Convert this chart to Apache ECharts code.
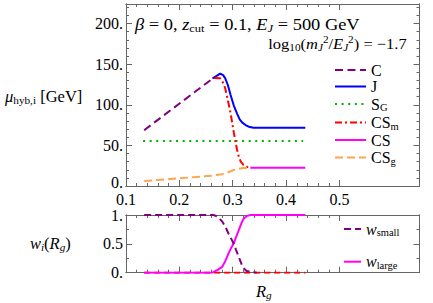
<!DOCTYPE html>
<html><head><meta charset="utf-8">
<script src="https://cdn.jsdelivr.net/npm/echarts@6/dist/echarts.min.js"></script>
<style>html,body{margin:0;padding:0;background:#fff}#c{width:433px;height:303px}</style>
</head><body><div id="c"></div>
<script>
// ---------- data ----------
const xC   = [0.134, 0.268];
const yC   = [68.7, 135];
const xJ   = [0.262, 0.2765, 0.282, 0.286, 0.291, 0.296, 0.302, 0.308, 0.313, 0.318, 0.324, 0.330, 0.339, 0.436];
const yJ   = [132.3, 138.3, 136.5, 132.5, 124, 112, 99, 89.4, 82, 78, 75, 73, 71.7, 71.7];
const xSG  = [0.132, 0.432];
const ySG  = [55.5, 55.5];
const xCSm = [0.265, 0.2765, 0.282, 0.286, 0.290, 0.295, 0.299, 0.302, 0.305, 0.308, 0.311, 0.315, 0.320, 0.327, 0.335];
const yCSm = [133, 132.5, 127, 120, 108, 93, 78, 66, 55, 45, 37, 30, 26, 23.5, 22.5];
const xCS  = [0.333, 0.436];
const yCS  = [22.5, 22.5];
const xCSg = [0.134, 0.160, 0.198, 0.230, 0.261, 0.280, 0.290, 0.300, 0.310, 0.320, 0.333];
const yCSg = [6.2, 7.4, 9.4, 11.0, 12.7, 14.6, 16.5, 19.3, 21.0, 22.1, 22.5];

const xWs  = [0.134, 0.264, 0.272, 0.280, 0.286, 0.292, 0.297, 0.3015, 0.306, 0.311, 0.316, 0.320, 0.326, 0.336, 0.345];
const yWs  = [1, 1, 0.97, 0.89, 0.80, 0.68, 0.59, 0.51, 0.40, 0.28, 0.16, 0.08, 0.03, 0.01, 0];
const xWl  = [0.134, 0.262, 0.267, 0.272, 0.280, 0.286, 0.292, 0.297, 0.3015, 0.306, 0.311, 0.316, 0.320, 0.326, 0.333, 0.436];
const yWl  = [0, 0, 0.03, 0.05, 0.10, 0.20, 0.33, 0.43, 0.50, 0.61, 0.73, 0.85, 0.93, 0.98, 1, 1];
const xWm  = [0.134, 0.436];
const yWm  = [0, 0];

// ticks / labels
const xMajor = [0.1, 0.2, 0.3, 0.4, 0.5];
const xMinor = [0.12,0.14,0.16,0.18,0.22,0.24,0.26,0.28,0.32,0.34,0.36,0.38,0.42,0.44,0.46,0.48];
const xLabels = ['0.1','0.2','0.3','0.4','0.5'];
const yTopMajor = [0, 50, 100, 150, 200];
const yTopMinor = [10,20,30,40,60,70,80,90,110,120,130,140,160,170,180,190,210,220];
const yTopLabels = ['0.','50.','100.','150.','200.'];
const yBotMajor = [0, 0.5, 1];
const yBotMinor = [0.25, 0.75];
const yBotLabels = ['0.','0.5','1.'];

// ---------- style ----------
const F = 'Liberation Serif';
const AX = '#666';
const X_MIN = 0.1, X_MAX = 0.65;
const PURPLE = '#800080', BLUE = '#0000ff', GREEN = '#00b400', RED = '#ff0000', MAG = '#ff00ff', ORANGE = '#ffa64d';

function lab(ticks, labels, liftFirst) {
  return v => {
    let b = 0, d = 1e9;
    ticks.forEach((t, i) => { const dd = Math.abs(t - v); if (dd < d) { d = dd; b = i; } });
    return (liftFirst && b === 0) ? '{u|' + labels[b] + '}' : labels[b];
  };
}
function ax(kind, gi, pos, min, max, ticks, len, labels, liftFirst) {
  return {
    type: 'value', gridIndex: gi, position: pos, min: min, max: max,
    axisLine: { show: true, onZero: false, lineStyle: { color: AX, width: 1 } },
    axisTick: { show: true, inside: true, length: len, customValues: ticks, lineStyle: { color: AX, width: 1 } },
    axisLabel: labels ? { show: true, customValues: ticks, formatter: lab(ticks, labels, liftFirst), margin: kind === 'x' ? 5 : 3,
      fontFamily: F, fontSize: 16, color: '#000',
      rich: { u: { fontFamily: F, fontSize: 16, color: '#000', padding: [0, 0, 8, 0] } } } : { show: false },
    splitLine: { show: false }, minorTick: { show: false }, axisPointer: { show: false }
  };
}
const xAxes = [
  ax('x', 0, 'bottom', X_MIN, X_MAX, xMajor, 6, xLabels),
  ax('x', 0, 'bottom', X_MIN, X_MAX, xMinor, 3, null),
  ax('x', 0, 'top', X_MIN, X_MAX, xMajor, 6, null),
  ax('x', 0, 'top', X_MIN, X_MAX, xMinor, 3, null),
  ax('x', 1, 'bottom', X_MIN, X_MAX, xMajor, 6, null),
  ax('x', 1, 'bottom', X_MIN, X_MAX, xMinor, 3, null),
  ax('x', 1, 'top', X_MIN, X_MAX, xMajor, 6, null),
  ax('x', 1, 'top', X_MIN, X_MAX, xMinor, 3, null)
];
const yAxes = [
  ax('y', 0, 'left', 0, 224, yTopMajor, 6, yTopLabels, true),
  ax('y', 0, 'left', 0, 224, yTopMinor, 3, null),
  ax('y', 0, 'right', 0, 224, yTopMajor, 6, null),
  ax('y', 0, 'right', 0, 224, yTopMinor, 3, null),
  ax('y', 1, 'left', 0, 1, yBotMajor, 6, yBotLabels),
  ax('y', 1, 'left', 0, 1, yBotMinor, 3, null),
  ax('y', 1, 'right', 0, 1, yBotMajor, 6, null),
  ax('y', 1, 'right', 0, 1, yBotMinor, 3, null)
];

function line(name, xs, ys, color, dash, ai, z) {
  return {
    type: 'line', name: name, xAxisIndex: ai, yAxisIndex: ai,
    data: xs.map((x, i) => [x, ys[i]]), symbol: 'none', showSymbol: false,
    lineStyle: { color: color, width: 2, type: dash || 'solid', cap: 'butt' },
    itemStyle: { color: color }, emphasis: { disabled: true }, silent: true, z: z, animation: false
  };
}

const series = [
  line('J', xJ, yJ, BLUE, 'solid', 0, 2),
  line('CS_m', xCSm, yCSm, RED, [7, 3, 2, 3], 0, 3),
  line('S_G', xSG, ySG, GREEN, [2, 4.6], 0, 2),
  line('CS_g', xCSg, yCSg, ORANGE, [8, 4], 0, 3),
  line('CS', xCS, yCS, MAG, 'solid', 0, 4),
  line('C', xC, yC, PURPLE, [8, 4.5], 0, 5),
  line('w_mid', xWm, yWm, RED, [6, 4], 4, 2),
  line('w_large', xWl, yWl, MAG, 'solid', 4, 3),
  line('w_small', xWs, yWs, PURPLE, [7, 4], 4, 4)
];

const legRich = {
  r: { fontFamily: F, fontSize: 16, lineHeight: 16, color: '#000' },
  i: { fontFamily: F, fontSize: 16, lineHeight: 16, fontStyle: 'italic', color: '#000' },
  s: { fontFamily: F, fontSize: 10.5, lineHeight: 9, padding: [7, 0, 0, 0], color: '#000' }
};
const legNames = { C: '{r|C}', J: '{r|J}', S_G: '{r|S}{s|G}', CS_m: '{r|CS}{s|m}', CS: '{r|CS}', CS_g: '{r|CS}{s|g}',
  w_small: '{i|w}{s|small}', w_large: '{i|w}{s|large}' };

// graphic rich (zrender)
function gr(size) {
  return {
    r: { fontFamily: F, fontSize: size, lineHeight: 18, fill: '#000' },
    i: { fontFamily: F, fontSize: size, lineHeight: 18, fontStyle: 'italic', fill: '#000' },
    s: { fontFamily: F, fontSize: size * 0.68, lineHeight: 10, padding: [8, 0, 0, 0], fill: '#000' },
    si: { fontFamily: F, fontSize: size * 0.68, lineHeight: 10, padding: [8, 0, 0, 0], fontStyle: 'italic', fill: '#000' },
    p: { fontFamily: F, fontSize: size * 0.68, lineHeight: 10, padding: [0, 0, 8, 0], fill: '#000' }
  };
}
function gtext(text, x, y, size, align, sx) {
  return { type: 'text', x: x, y: y, scaleX: sx || 1, silent: true,
    style: { text: text, rich: gr(size), fontFamily: F, fontSize: size, align: align || 'left', verticalAlign: 'middle', fill: '#000' } };
}

const option = {
  animation: false,
  backgroundColor: '#fff',
  grid: [
    { left: 126, top: 4, width: 293.5, height: 182 },
    { left: 126, top: 215, width: 293.5, height: 57.7 }
  ],
  xAxis: xAxes,
  yAxis: yAxes,
  legend: [
    { orient: 'vertical', left: 334, top: 62, padding: 0, itemWidth: 31, itemHeight: 12, itemGap: 0.5, selectedMode: false,
      data: ['C', 'J', 'S_G', 'CS_m', 'CS', 'CS_g'], itemStyle: { opacity: 0 },
      formatter: n => legNames[n], textStyle: { fontFamily: F, fontSize: 16, color: '#000', rich: legRich } },
    { orient: 'vertical', left: 343, top: 220, padding: 0, itemWidth: 17, itemHeight: 12, itemGap: 14.7, selectedMode: false,
      data: ['w_small', 'w_large'], itemStyle: { opacity: 0 },
      formatter: n => legNames[n], textStyle: { fontFamily: F, fontSize: 16, color: '#000', rich: legRich } }
  ],
  graphic: [
    gtext('{i|β}{r| = 0, }{i|z}{s|cut}{r| = 0.1, }{i|E}{si|J}{r| = 500 GeV}', 135, 25, 16, 'left', 1.15),
    gtext('{r|log}{s|10}{r|(}{i|m}{si|J}{p|2}{r|/}{i|E}{si|J}{p|2}{r|) = −1.7}', 406.7, 43.3, 15, 'right', 1.1),
    gtext('{i|μ}{s|hyb,i}{r| [GeV]}', 5, 96, 16.5, 'left'),
    gtext('{i|w}{si|i}{r|(}{i|R}{si|g}{r|)}', 30, 243, 16.5, 'left'),
    gtext('{i|R}{si|g}', 256, 291, 16.5, 'left')
  ],
  series: series
};
const chart = echarts.init(document.getElementById('c'), null, { renderer: 'svg' });
chart.setOption(option);
</script></body></html>
